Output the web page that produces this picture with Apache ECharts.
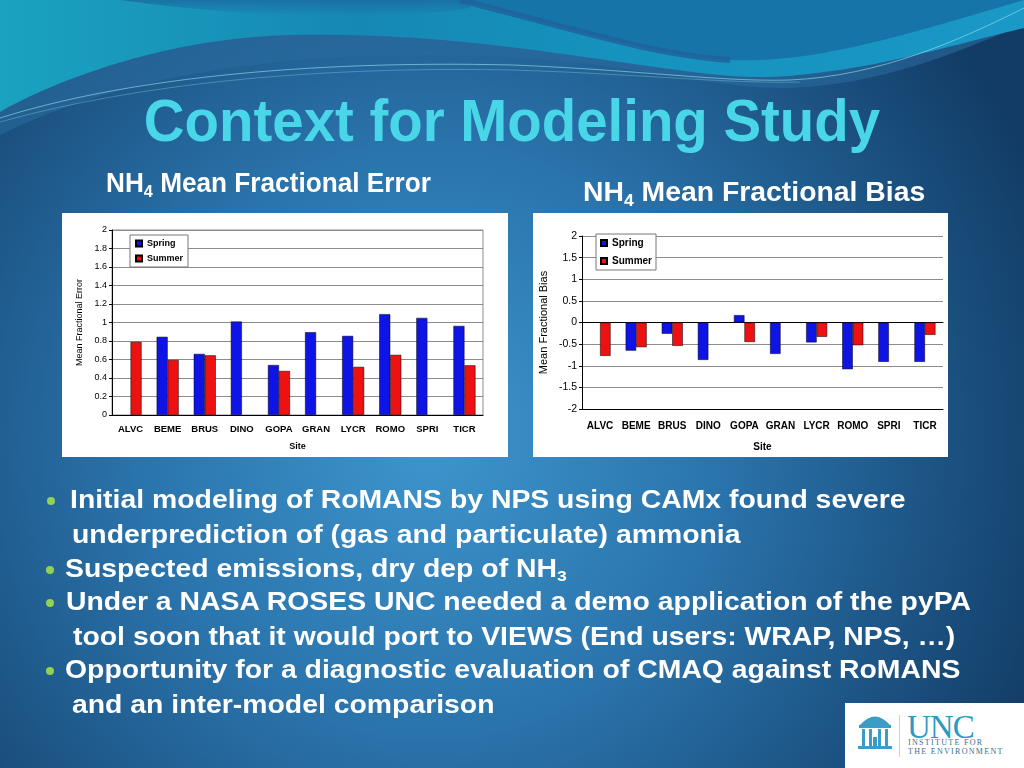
<!DOCTYPE html>
<html><head><meta charset="utf-8">
<script src="https://cdn.jsdelivr.net/npm/echarts@6/dist/echarts.min.js"></script>
<style>
html,body{margin:0;padding:0;width:1024px;height:768px;overflow:hidden;font-family:"Liberation Sans",Arial,sans-serif;}
#bg{position:absolute;left:0;top:0}
.box{position:absolute;background:#fff}
#chart{position:absolute;left:0;top:0;width:1024px;height:768px}
.t{position:absolute;white-space:nowrap;font-weight:bold;color:#fff;transform-origin:0 0}
.t sub{font-size:0.62em;vertical-align:-0.28em;line-height:0}
.b{font-size:25px;line-height:25px;transform:scaleX(1.135)}
.dot{position:absolute;width:8px;height:8px;border-radius:50%;background:#93d150}
</style></head><body>
<svg id="bg" width="1024" height="768">
 <defs>
  <radialGradient id="g1" cx="430" cy="440" r="660" gradientUnits="userSpaceOnUse">
   <stop offset="0" stop-color="#3e95cd"/>
   <stop offset="0.45" stop-color="#2a73ab"/>
   <stop offset="1" stop-color="#123c66"/>
  </radialGradient>
  <linearGradient id="g2" x1="0" y1="0" x2="1" y2="0">
   <stop offset="0" stop-color="#1aa2c0"/>
   <stop offset="0.35" stop-color="#1688b4"/>
   <stop offset="0.6" stop-color="#1592bd"/>
   <stop offset="1" stop-color="#1a98c6"/>
  </linearGradient>
  <linearGradient id="g3" x1="0" y1="0" x2="0" y2="1">
   <stop offset="0" stop-color="#1a6ea2" stop-opacity="0.9"/>
   <stop offset="1" stop-color="#1a6ea2" stop-opacity="0"/>
  </linearGradient>
 </defs>
 <rect width="1024" height="768" fill="url(#g1)"/>
 <path d="M0,135 C120,75 300,45 520,58 C650,66 720,90 790,88 C880,85 960,52 1024,24 V0 H0 Z" fill="#2a6a9e" opacity="0.6"/>
 <path d="M0,112 C60,78 170,38 290,35 C420,32 520,48 620,62 C690,72 730,78 770,77 C870,72 950,45 1024,28 V0 H0 Z" fill="url(#g2)"/>
 <path d="M120,0 C250,18 380,22 470,8 L470,0 Z" fill="url(#g3)"/>
 <path d="M460,0 C560,25 650,55 730,60 C820,64 920,30 1024,0 Z" fill="#1674a8"/>
 <path d="M460,0 C560,25 650,55 730,60" stroke="#21609a" stroke-width="6" fill="none" opacity="0.8"/>
 <path d="M0,118 C120,80 300,60 512,65 C640,70 720,82 790,80 C880,76 960,40 1024,8" stroke="#a8ecf7" stroke-width="0.8" fill="none" opacity="0.7"/>
 <path d="M0,122 C130,86 300,66 512,70 C640,74 730,84 800,82" stroke="#a8ecf7" stroke-width="0.6" fill="none" opacity="0.5"/>
</svg>
<div class="box" style="left:62px;top:213px;width:446px;height:244px"></div>
<div class="box" style="left:533px;top:213px;width:415px;height:244px"></div>
<div id="chart"></div>

<div class="t" style="left:0;width:1024px;text-align:center;top:91px;font-size:60px;line-height:60px;color:#48d6e8;transform:scaleX(0.94);transform-origin:50% 0">Context for Modeling Study</div>
<div class="t" style="left:106px;top:170px;font-size:27px;line-height:27px;transform:scaleX(0.97)">NH<sub>4</sub> Mean Fractional Error</div>
<div class="t" style="left:583px;top:179px;font-size:27px;line-height:27px;transform:scaleX(1.05)">NH<sub>4</sub> Mean Fractional Bias</div>

<div class="dot" style="left:47px;top:497px"></div>
<div class="t b" style="left:70px;top:487px">Initial modeling of RoMANS by NPS using CAMx found severe</div>
<div class="t b" style="left:72px;top:522px">underprediction of (gas and particulate) ammonia</div>
<div class="dot" style="left:46px;top:566px"></div>
<div class="t b" style="left:65px;top:556px">Suspected emissions, dry dep of NH<sub>3</sub></div>
<div class="dot" style="left:46px;top:599px"></div>
<div class="t b" style="left:66px;top:589px">Under a NASA ROSES UNC needed a demo application of the pyPA</div>
<div class="t b" style="left:73px;top:624px">tool soon that it would port to VIEWS (End users: WRAP, NPS, …)</div>
<div class="dot" style="left:46px;top:667px"></div>
<div class="t b" style="left:65px;top:657px">Opportunity for a diagnostic evaluation of CMAQ against RoMANS</div>
<div class="t b" style="left:72px;top:692px">and an inter-model comparison</div>

<div style="position:absolute;left:845px;top:703px;width:179px;height:65px;background:#fff">
 <svg width="179" height="65" style="position:absolute;left:0;top:0">
  <g fill="#3c9cc8">
   <path d="M15,22 Q30,5 45,22 Z"/>
   <rect x="14" y="22" width="32" height="3"/>
   <rect x="17" y="26" width="3" height="17"/>
   <rect x="24" y="26" width="3" height="17"/>
   <rect x="33" y="26" width="3" height="17"/>
   <rect x="40" y="26" width="3" height="17"/>
   <rect x="28" y="34" width="4" height="9"/>
   <rect x="13" y="43" width="34" height="3"/>
  </g>
  <rect x="54" y="12" width="1" height="42" fill="#b8d8e6"/>
 </svg>
 <div style="position:absolute;left:62px;top:9px;font-family:'Liberation Serif','DejaVu Serif',serif;font-size:33px;line-height:30px;color:#2e9ac4;letter-spacing:-1px">UNC</div>
 <div style="position:absolute;left:63px;top:36px;font-family:'Liberation Serif','DejaVu Serif',serif;font-size:8px;line-height:8px;color:#3c6f8c;letter-spacing:1.3px">INSTITUTE FOR</div>
 <div style="position:absolute;left:63px;top:45px;font-family:'Liberation Serif','DejaVu Serif',serif;font-size:8px;line-height:8px;color:#3c6f8c;letter-spacing:1.3px">THE ENVIRONMENT</div>
</div>

<script>
const sites = ['ALVC','BEME','BRUS','DINO','GOPA','GRAN','LYCR','ROMO','SPRI','TICR'];
const mfeSpring = [null,0.845,0.66,1.01,0.54,0.895,0.855,1.09,1.05,0.963];
const mfeSummer = [0.79,0.595,0.645,null,0.476,null,0.52,0.65,null,0.537];
const mfbSpring = [null,-0.65,-0.26,-0.865,0.17,-0.726,-0.46,-1.08,-0.91,-0.91];
const mfbSummer = [-0.772,-0.57,-0.54,null,-0.45,null,-0.33,-0.525,null,-0.285];
const seasons = ['Spring','Summer'];

const BLUE = '#0f14e6', RED = '#ee1111';
const chart = echarts.init(document.getElementById('chart'), null, {renderer:'canvas'});
const black = {color:'#000'};
const option = {
  animation:false,
  grid:[
    {left:112,top:230,width:371,height:185,show:true,borderColor:'#8c8c8c',borderWidth:1},
    {left:582,top:236,width:361,height:173}
  ],
  legend:[
    {data:seasons,orient:'vertical',left:130,top:235,itemWidth:6,itemHeight:6,itemGap:4,padding:[3,5,3,5],
     backgroundColor:'#fff',borderColor:'#777',borderWidth:1,icon:'rect',
     textStyle:{fontSize:9,fontWeight:'bold',color:'#000',lineHeight:11}},
    {data:seasons,orient:'vertical',left:596,top:234,itemWidth:6,itemHeight:6,itemGap:6,padding:[3,4,3,4],
     backgroundColor:'#fff',borderColor:'#777',borderWidth:1,icon:'rect',
     textStyle:{fontSize:10,fontWeight:'bold',color:'#000',lineHeight:12}}
  ],
  xAxis:[
    {gridIndex:0,type:'category',data:sites,axisLine:{lineStyle:black},
     axisTick:{length:4,lineStyle:black},
     axisLabel:{color:'#000',fontWeight:'bold',fontSize:9.5,margin:9,interval:0},
     name:'Site',nameLocation:'middle',nameGap:27,nameTextStyle:{color:'#000',fontWeight:'bold',fontSize:9}},
    {gridIndex:1,type:'category',data:sites,position:'bottom',axisLine:{onZero:true,lineStyle:black},
     axisTick:{length:3,lineStyle:black},axisLabel:{show:false}},
    {gridIndex:1,type:'category',data:sites,position:'bottom',axisLine:{onZero:true,lineStyle:black},
     axisTick:{inside:true,length:4,lineStyle:black},axisLabel:{show:false}},
    {gridIndex:1,type:'category',data:sites,position:'bottom',axisLine:{show:false,onZero:false},
     axisTick:{show:false},
     axisLabel:{color:'#000',fontWeight:'bold',fontSize:10,margin:12,interval:0},
     name:'Site',nameLocation:'middle',nameGap:33,nameTextStyle:{color:'#000',fontWeight:'bold',fontSize:10}}
  ],
  yAxis:[
    {gridIndex:0,type:'value',min:0,max:2,interval:0.2,
     axisLine:{show:true,lineStyle:black},axisTick:{show:true,length:3,lineStyle:black},
     axisLabel:{color:'#000',fontSize:9,margin:5},
     splitLine:{lineStyle:{color:'#8c8c8c',width:1}},
     name:'Mean Fractional Error',nameLocation:'middle',nameGap:28,nameTextStyle:{color:'#000',fontSize:9}},
    {gridIndex:1,type:'value',min:-2,max:2,interval:0.5,
     axisLine:{show:true,lineStyle:black},axisTick:{show:true,length:3,lineStyle:black},
     axisLabel:{color:'#000',fontSize:10.5,margin:5},
     splitLine:{lineStyle:{color:'#8c8c8c',width:1}},
     name:'Mean Fractional Bias',nameLocation:'middle',nameGap:33,nameTextStyle:{color:'#000',fontSize:11}}
  ],
  series:[
    {name:'Spring',type:'bar',xAxisIndex:0,yAxisIndex:0,data:mfeSpring,barWidth:11,barGap:'0%',
     itemStyle:{color:BLUE,borderColor:'#000',borderWidth:0.5}},
    {name:'Summer',type:'bar',xAxisIndex:0,yAxisIndex:0,data:mfeSummer,barWidth:11,barGap:'0%',
     itemStyle:{color:RED,borderColor:'#000',borderWidth:0.5}},
    {name:'Spring',type:'bar',xAxisIndex:1,yAxisIndex:1,data:mfbSpring,barWidth:10.5,barGap:'0%',
     itemStyle:{color:BLUE,borderColor:'#000',borderWidth:0.5}},
    {name:'Summer',type:'bar',xAxisIndex:1,yAxisIndex:1,data:mfbSummer,barWidth:10.5,barGap:'0%',
     itemStyle:{color:RED,borderColor:'#000',borderWidth:0.5}}
  ]
};
chart.setOption(option);
</script>
</body></html>
